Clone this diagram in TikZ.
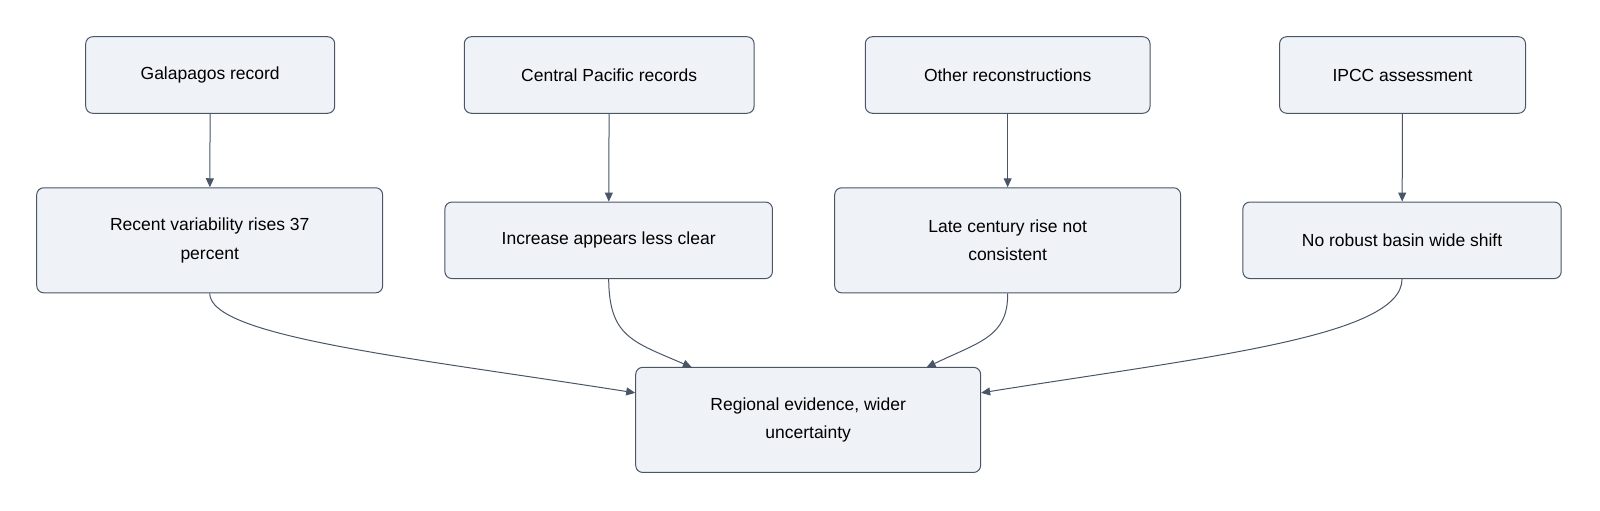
\documentclass[tikz,border=0pt]{standalone}
\usepackage{fontspec}
\setmainfont{Liberation Sans}
\usetikzlibrary{arrows.meta}
\definecolor{boxfill}{HTML}{EFF2F7}
\definecolor{boxline}{HTML}{4A5568}
\begin{document}
\begin{tikzpicture}[x=1.0204pt,y=-1.0204pt,
  box/.style={draw=boxline,fill=boxfill,rounded corners=7pt,line width=1pt,align=center,font=\fontsize{17.5}{28.5}\selectfont,inner sep=0pt},
  conn/.style={draw=boxline,line width=1pt,-{Triangle[length=9pt,width=8pt]}}]
\useasboundingbox (0,0) rectangle (1568,500);
\newcommand\bx[6]{\node[box,minimum width=1.0204*(#4-#3),minimum height=1.0204*(#6-#5)] (#1) at ({(#3+#4)/2},{(#5+#6)/2}) {#2};}
\bx{g}{Galapagos record}{84}{328}{36}{111}
\bx{c}{Central Pacific records}{455}{739}{36}{111}
\bx{o}{Other reconstructions}{848}{1127}{36}{111}
\bx{i}{IPCC assessment}{1254}{1495}{36}{111}
\bx{r}{Recent variability rises 37\\percent}{36}{375}{184}{287}
\bx{a}{Increase appears less clear}{436}{757}{198}{273}
\bx{l}{Late century rise not\\consistent}{818}{1157}{184}{287}
\bx{n}{No robust basin wide shift}{1218}{1530}{198}{273}
\bx{e}{Regional evidence, wider\\uncertainty}{623}{961}{360}{463}
\draw[conn] (g) -- (r);
\draw[conn] (c) -- (a);
\draw[conn] (o) -- (l);
\draw[conn] (i) -- (n);
\draw[conn] (r.south) .. controls (206,330) and (400,350) .. (e.west |- 0,385);
\draw[conn] (a.south) .. controls (597,330) and (620,335) .. (678,360);
\draw[conn] (l.south) .. controls (988,330) and (960,335) .. (908,360);
\draw[conn] (n.south) .. controls (1374,330) and (1180,350) .. (e.east |- 0,385);
\end{tikzpicture}
\end{document}
